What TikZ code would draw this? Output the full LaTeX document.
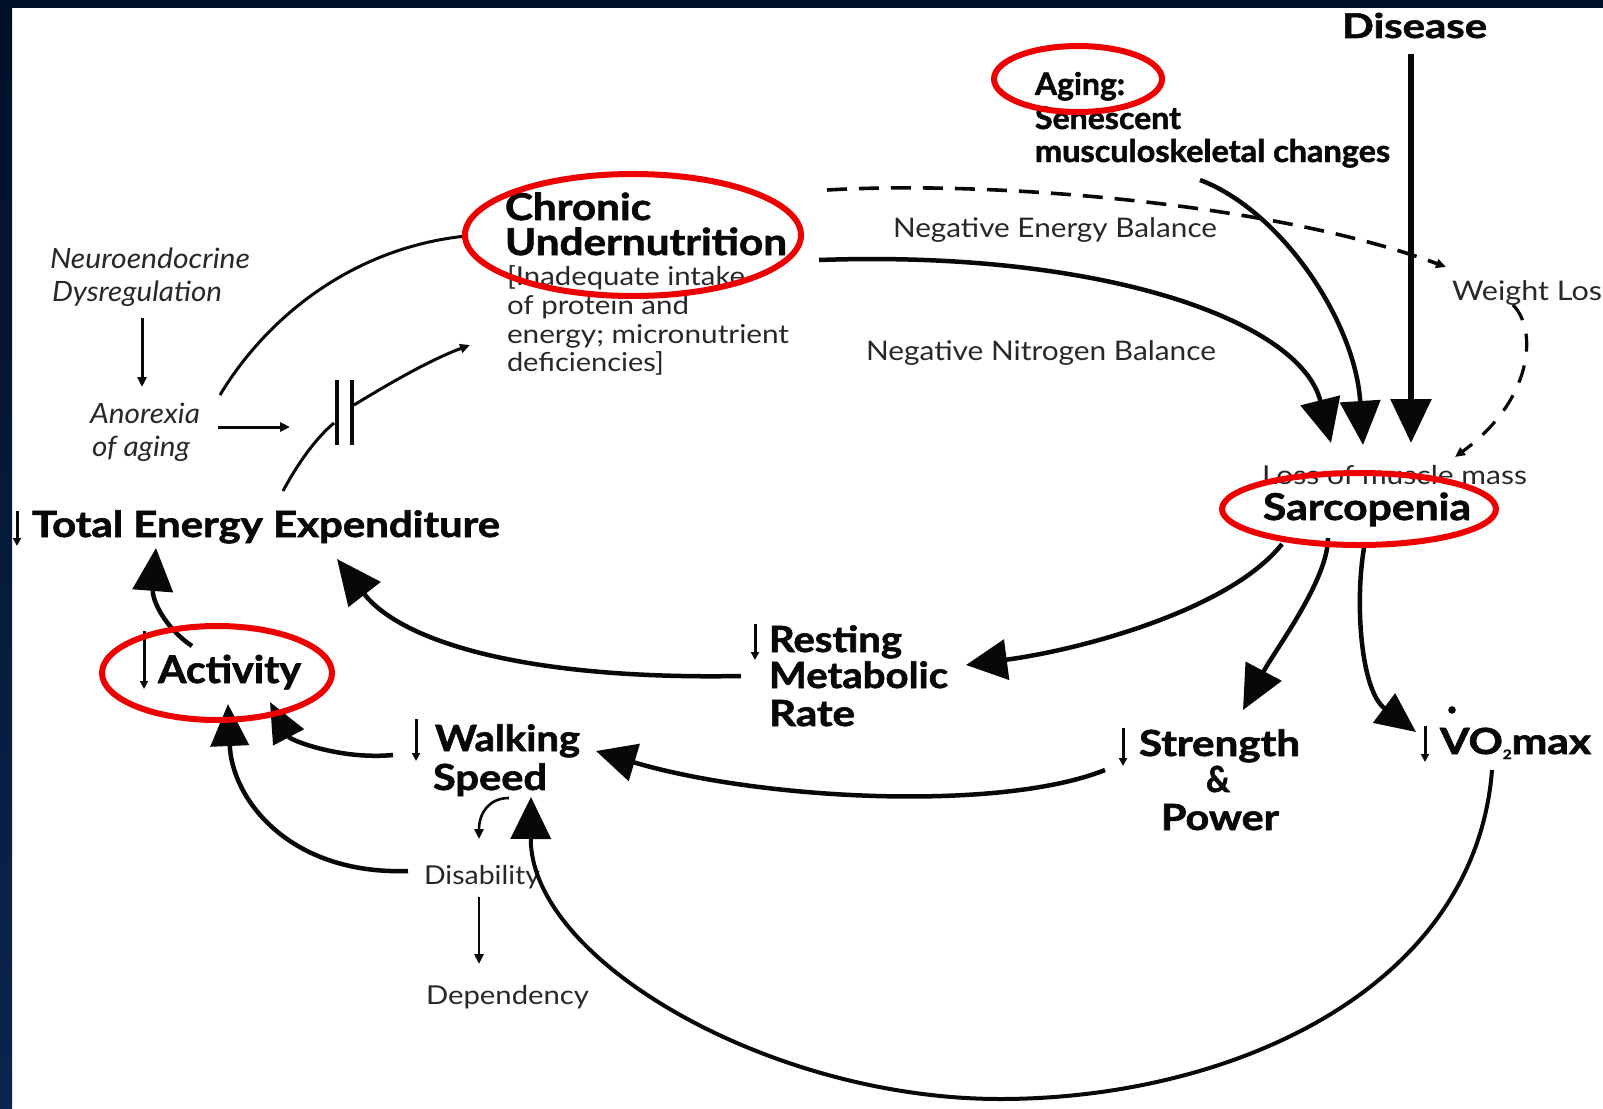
\documentclass[tikz,border=0pt]{standalone}
\usepackage{fontspec}
\setmainfont{Lato}[BoldFeatures={FakeBold=1.6}]
\usepackage{graphicx}
\usetikzlibrary{arrows.meta,calc,shapes.geometric}
\definecolor{navy}{RGB}{1,16,38}
\definecolor{navylow}{RGB}{12,36,78}
\definecolor{ring}{RGB}{238,0,0}
\definecolor{ink}{RGB}{8,8,8}
\definecolor{soft}{RGB}{40,40,40}
\newcommand\fitw[2]{\resizebox{#1pt}{\height}{#2}}
\newcommand\fsz[1]{\fontsize{#1}{#1}\selectfont}
\tikzset{
  lbl/.style={inner sep=0pt, outer sep=0pt, anchor=base west, text=ink},
  plain/.style={lbl, text=soft},
  conn/.style={line width=4.5pt, draw=ink},
  thinconn/.style={line width=3pt, draw=ink},
  bigtip/.style={-{Triangle[length=44pt,width=40pt]}},
  smalltip/.style={-{Triangle[length=10pt,width=9pt]}},
  dashline/.style={line width=3.6pt, draw=ink, dash pattern=on 20pt off 12pt},
  ringmark/.style={draw=ring, line width=6pt, ellipse, inner sep=0pt, fill=none},
  downmark/.style={line width=3pt, draw=ink, -{Triangle[length=8pt,width=8pt]}},
}
\begin{document}
\begin{tikzpicture}[x=1pt,y=-1pt]
\useasboundingbox (0,0) rectangle (1603,1108);
\fill[white] (0,0) rectangle (1603,1108);

% ---------- texts ----------
\node[plain, font=\itshape\fsz{28}] (neuro1) at (50,268) {\fitw{200}{Neuroendocrine}};
\node[plain, font=\itshape\fsz{28}] (neuro2) at (52,301) {\fitw{170}{Dysregulation}};
\node[plain, font=\itshape\fsz{28}] (ano1) at (90,423) {\fitw{110}{Anorexia}};
\node[plain, font=\itshape\fsz{28}] (ano2) at (92,456) {\fitw{98}{of aging}};

\node[lbl, font=\bfseries\fsz{37}] (chr1) at (505,220) {\fitw{146}{Chronic}};
\node[lbl, font=\bfseries\fsz{37}] (chr2) at (505,255) {\fitw{282}{Undernutrition}};
\node[plain, font=\fsz{26}] (chr3) at (507,285) {\fitw{238}{[Inadequate intake}};
\node[plain, font=\fsz{26}] (chr4) at (507,314) {\fitw{182}{of protein and}};
\node[plain, font=\fsz{26}] (chr5) at (507,343) {\fitw{282}{energy; micronutrient}};
\node[plain, font=\fsz{26}] (chr6) at (507,371) {\fitw{157}{deficiencies]}};

\node[plain, font=\fsz{27}] (neb) at (893,237) {\fitw{324}{Negative Energy Balance}};
\node[plain, font=\fsz{27}] (nnb) at (866,360) {\fitw{350}{Negative Nitrogen Balance}};

\node[lbl, font=\bfseries\fsz{31}] (age1) at (1035,95) {\fitw{90}{Aging:}};
\node[lbl, font=\bfseries\fsz{31}] (age2) at (1035,129) {\fitw{146}{Senescent}};
\node[lbl, font=\bfseries\fsz{31}] (age3) at (1035,162) {\fitw{355}{musculoskeletal changes}};
\node[lbl, font=\bfseries\fsz{34}] (dis) at (1342,38) {\fitw{145}{Disease}};
\node[plain, font=\fsz{27}] (wl) at (1452,300) {\fitw{150}{Weight Los}};

\node[plain, font=\fsz{26}] (lmm) at (1262,484) {\fitw{265}{Loss of muscle mass}};
\node[lbl, font=\bfseries\fsz{37}] (sar) at (1263,520) {\fitw{208}{Sarcopenia}};

\node[lbl, font=\bfseries\fsz{36}] (tee) at (32,537) {\fitw{468}{Total Energy Expenditure}};
\node[lbl, font=\bfseries\fsz{38}] (act) at (158,683) {\fitw{143}{Activity}};
\node[lbl, font=\bfseries\fsz{36}] (ws1) at (435,751) {\fitw{145}{Walking}};
\node[lbl, font=\bfseries\fsz{36}] (ws2) at (433,790) {\fitw{114}{Speed}};
\node[plain, font=\fsz{26}] (ds) at (424,884) {\fitw{116}{Disability}};
\node[plain, font=\fsz{26}] (dep) at (426,1004) {\fitw{163}{Dependency}};

\node[lbl, font=\bfseries\fsz{36}] (rmr1) at (769,652) {\fitw{133}{Resting}};
\node[lbl, font=\bfseries\fsz{36}] (rmr2) at (769,688) {\fitw{179}{Metabolic}};
\node[lbl, font=\bfseries\fsz{36}] (rmr3) at (769,726) {\fitw{86}{Rate}};

\node[lbl, font=\bfseries\fsz{36}] (str1) at (1139,756) {\fitw{161}{Strength}};
\node[lbl, anchor=base, font=\bfseries\fsz{36}] (str2) at (1218,792) {\fitw{24}{\&}};
\node[lbl, anchor=base, font=\bfseries\fsz{36}] (str3) at (1220,830) {\fitw{118}{Power}};
\node[lbl, font=\bfseries\fsz{36}] (vo) at (1440,754) {\fitw{151}{VO\raisebox{-5pt}{\fsz{13}2}max}};
\fill[ink] ($(vo.base west)+(12,-44)$) circle (3.8pt);

% ---------- decrease marks ----------
\draw[downmark] ($(tee.base west)+(-15,-26)$) -- ($(tee.base west)+(-15,9)$);
\draw[downmark] ($(act.base west)+(-14,-52)$) -- ($(act.base west)+(-14,6)$);
\draw[downmark] ($(ws1.base west)+(-19,-32)$) -- ($(ws1.base west)+(-19,10)$);
\draw[downmark] ($(rmr1.base west)+(-14,-28)$) -- ($(rmr1.base west)+(-14,8)$);
\draw[downmark] ($(str1.base west)+(-16,-28)$) -- ($(str1.base west)+(-16,10)$);
\draw[downmark] ($(vo.base west)+(-15,-28)$) -- ($(vo.base west)+(-15,8)$);

% ---------- connector ends ----------
\coordinate (neuB) at (142,318);
\coordinate (anoT) at (142,387);
\coordinate (anoR) at (218,427);
\coordinate (blkIn) at (290,427);
\coordinate (anoA) at (220,395);
\coordinate (chrA) at (466,236);
\coordinate (teeB) at (283,491);
\coordinate (blkL) at (334,423);
\coordinate (blkR) at (354,405);
\coordinate (chrB) at (470,345);
\coordinate (bar1t) at (337,380);
\coordinate (bar1b) at (337,445);
\coordinate (bar2t) at (352,380);
\coordinate (bar2b) at (352,445);
\coordinate (chrC) at (819,260);
\coordinate (sarA) at (1331,443);
\coordinate (agB) at (1200,180);
\coordinate (sarB) at (1363,445);
\coordinate (disB) at (1411,54);
\coordinate (sarC) at (1411,443);
\coordinate (chrD) at (827,190);
\coordinate (wlA) at (1446,267);
\coordinate (wlB) at (1513,305);
\coordinate (lmmA) at (1455,457);
\coordinate (sarD) at (1282,544);
\coordinate (rmrA) at (966,665);
\coordinate (sarE) at (1328,538);
\coordinate (strA) at (1243,710);
\coordinate (sarF) at (1364,548);
\coordinate (voA) at (1416,732);
\coordinate (rmrB) at (741,676);
\coordinate (teeA) at (337,559);
\coordinate (strB) at (1105,770);
\coordinate (wsA) at (596,751);
\coordinate (wsB) at (393,755);
\coordinate (actA) at (270,702);
\coordinate (dsA) at (408,871);
\coordinate (actB) at (228,704);
\coordinate (actC) at (192,646);
\coordinate (teeC) at (156,548);
\coordinate (wsC) at (509,798);
\coordinate (dsB) at (479,839);
\coordinate (dsC) at (479,897);
\coordinate (depA) at (479,964);
\coordinate (voB) at (1492,770);
\coordinate (arcLow) at (1000,1099);
\coordinate (wsD) at (531,797);

% ---------- connectors ----------
\draw[thinconn, smalltip] (neuB) -- (anoT);
\draw[thinconn, smalltip] (anoR) -- (blkIn);
\draw[thinconn] (anoA) .. controls (265,320) and (350,248) .. (chrA);
\draw[thinconn] (teeB) .. controls (298,463) and (316,438) .. (blkL);
\draw[thinconn, smalltip] (blkR) .. controls (390,383) and (430,360) .. (chrB);
\draw[line width=3.4pt, ink] (bar1t) -- (bar1b);
\draw[line width=3.4pt, ink] (bar2t) -- (bar2b);

\draw[conn, bigtip] (chrC) .. controls (1100,250) and (1300,320) .. (sarA);
\draw[conn, bigtip] (agB) .. controls (1280,210) and (1355,320) .. (sarB);
\draw[conn, line width=6pt, bigtip] (disB) -- (sarC);
\draw[dashline, smalltip] (chrD) .. controls (1000,180) and (1280,205) .. (wlA);
\draw[dashline, line width=3.2pt, dash pattern=on 18pt off 14pt, smalltip] (wlB) .. controls (1538,330) and (1533,400) .. (lmmA);

\draw[conn, -{Triangle[length=41pt,width=40pt]}] (sarD) .. controls (1230,610) and (1080,650) .. (rmrA);
\draw[conn, bigtip] (sarE) .. controls (1328,580) and (1275,650) .. (strA);
\draw[conn, -{Triangle[length=40pt,width=36pt]}] (sarF) .. controls (1355,600) and (1360,690) .. (voA);
\draw[conn, -{Triangle[length=45pt,width=40pt]}] (rmrB) .. controls (520,680) and (400,640) .. (teeA);
\draw[conn, -{Triangle[length=40pt,width=38pt]}] (strB) .. controls (1000,812) and (760,800) .. (wsA);
\draw[conn, -{Triangle[length=40pt,width=34pt]}] (wsB) .. controls (340,760) and (290,740) .. (actA);
\draw[conn, -{Triangle[length=42pt,width=38pt]}] (dsA) .. controls (290,875) and (232,800) .. (actB);
\draw[conn, -{Triangle[length=43pt,width=40pt]}] (actC) .. controls (165,628) and (152,600) .. (teeC);
\draw[thinconn, line width=2.6pt, smalltip] (wsC) .. controls (490,798) and (479,812) .. (dsB);
\draw[thinconn, line width=2.6pt, smalltip] (dsC) -- (depA);
\draw[conn, line width=4pt, -{Triangle[length=42pt,width=40pt]}] (voB) .. controls (1475,990) and (1230,1099) .. (arcLow) .. controls (770,1099) and (530,960) .. (wsD);

% ---------- red rings ----------
\node[ringmark, minimum width=168pt, minimum height=66pt] (ringAge) at (1078,79) {};
\node[ringmark, minimum width=336pt, minimum height=122pt] (ringChr) at (633,235) {};
\node[ringmark, minimum width=274pt, minimum height=72pt] (ringSar) at (1359,509) {};
\node[ringmark, minimum width=230pt, minimum height=94pt] (ringAct) at (217,673) {};

% ---------- frame ----------
\fill[navy] (0,0) rectangle (1603,8);
\shade[top color=navy, bottom color=navylow] (0,0) rectangle (12,1108);
\end{tikzpicture}
\end{document}
